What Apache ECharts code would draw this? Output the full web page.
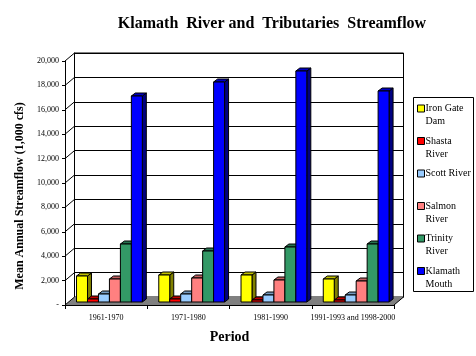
<!DOCTYPE html>
<html><head><meta charset="utf-8">
<style>html,body{margin:0;padding:0;background:#fff}#c{width:476px;height:356px}</style>
<script src="https://cdn.jsdelivr.net/npm/echarts@6/dist/echarts.min.js"></script>
</head><body><div id="c"></div>
<script>
const periods = ['1961-1970', '1971-1980', '1981-1990', '1991-1993 and 1998-2000'];
const ironGate = [2150, 2200, 2200, 1900];
const shasta = [250, 250, 200, 200];
const scott = [650, 650, 550, 550];
const salmon = [1900, 1950, 1800, 1700];
const trinity = [4750, 4150, 4500, 4750];
const klamath = [16900, 18000, 18900, 17300];
const yTicks = [0, 2000, 4000, 6000, 8000, 10000, 12000, 14000, 16000, 18000, 20000];

const rivers = [
  {name: 'Iron Gate\nDam', values: ironGate, face: '#ffff00', side: '#808000', top: '#bfbf00'},
  {name: 'Shasta\nRiver', values: shasta, face: '#ff0000', side: '#800000', top: '#bf0000'},
  {name: 'Scott River\n ', values: scott, face: '#99ccff', side: '#4d6680', top: '#7399bf'},
  {name: 'Salmon\nRiver', values: salmon, face: '#ff8080', side: '#804040', top: '#bf6060'},
  {name: 'Trinity\nRiver', values: trinity, face: '#339966', side: '#1a4d33', top: '#267350'},
  {name: 'Klamath\nMouth', values: klamath, face: '#0000ff', side: '#000080', top: '#0000bf'}
];
const WALL_DX = 9.5, WALL_DY = -8, BAR_DX = 3.3, BAR_DY = -3, BAR_DEPTH_X = 4, BAR_DEPTH_Y = -3;
const edge = {stroke: '#000', lineWidth: 1};

function poly(points, fill) {
  return {type: 'polygon', shape: {points}, style: Object.assign({fill}, edge)};
}
function barItem(river, idx) {
  return function (params, api) {
    const cat = api.value(0);
    const top = api.coord([cat, api.value(1)]);
    const base = api.coord([cat, 0]);
    const w = api.size([1, 0])[0] / 7.5;
    const x0 = top[0] + (idx - 3) * w + BAR_DX;
    const x1 = x0 + w;
    const y0 = Math.round(top[1] + BAR_DY);
    const y1 = base[1] + BAR_DY;
    const dx = BAR_DEPTH_X, dy = BAR_DEPTH_Y;
    return {type: 'group', children: [
      poly([[x1, y0], [x1 + dx, y0 + dy], [x1 + dx, y1 + dy], [x1, y1]], river.side),
      poly([[x0, y0], [x0 + dx, y0 + dy], [x1 + dx, y0 + dy], [x1, y0]], river.top),
      poly([[x0, y0], [x1, y0], [x1, y1], [x0, y1]], river.face)
    ]};
  };
}
function frameItem(params, api) {
  const v = api.value(0);
  const p = api.coord([0, v]);
  const left = api.coord([0, 0])[0] - api.size([1, 0])[0] / 2;
  const right = left + api.size([1, 0])[0] * periods.length;
  const children = [{type: 'line', shape: {x1: left, y1: p[1], x2: left + WALL_DX, y2: p[1] + WALL_DY}, style: edge}];
  if (v === 0) {
    children.unshift({type: 'polygon', shape: {points: [[left, p[1]], [right, p[1]], [right + WALL_DX, p[1] + WALL_DY], [left + WALL_DX, p[1] + WALL_DY]]}, style: {fill: '#808080'}});
    children.push({type: 'line', shape: {x1: right, y1: p[1], x2: right + WALL_DX, y2: p[1] + WALL_DY}, style: edge});
  }
  return {type: 'group', children};
}

const series = [{
  type: 'custom', name: 'frame', xAxisIndex: 0, yAxisIndex: 0, z: 1, silent: true,
  data: yTicks.map(v => [v]), encode: {y: 0}, renderItem: frameItem
}].concat(rivers.map((r, i) => ({
  type: 'custom', name: r.name, xAxisIndex: 0, yAxisIndex: 0, z: 2,
  itemStyle: {color: r.face},
  data: r.values.map((v, c) => [c, v]),
  encode: {x: 0, y: 1},
  renderItem: barItem(r, i)
})));

const chart = echarts.init(document.getElementById('c'), null, {renderer: 'canvas'});
const serif = '"Liberation Serif","Times New Roman",serif';
chart.setOption({
  animation: false,
  backgroundColor: '#fff',
  title: {
    text: 'Klamath  River and  Tributaries  Streamflow',
    left: 267, top: 11, textAlign: 'center',
    textStyle: {fontFamily: serif, fontWeight: 'bold', fontSize: 16, color: '#000'}
  },
  graphic: [{
    type: 'rect', z: 0, shape: {x: 413.5, y: 97.5, width: 60, height: 194},
    style: {fill: '#fff', stroke: '#000', lineWidth: 1}
  }],
  legend: {
    data: rivers.map(r => r.name),
    formatter: name => ' \n' + name,
    orient: 'vertical', left: 413, top: 86, z: 5,
    padding: [3, 0, 0, 4], itemGap: -6.5, itemWidth: 7, itemHeight: 7, icon: 'rect',
    itemStyle: {borderColor: '#000', borderWidth: 1},
    selectedMode: false,
    textStyle: {fontFamily: serif, fontSize: 10, color: '#000', lineHeight: 13, padding: [0, 0, 0, -4]}
  },
  grid: [
    {left: 65, top: 61, width: 329, height: 244},
    {left: 74.5, top: 53, width: 329, height: 244, show: true, borderColor: '#000', borderWidth: 1, backgroundColor: 'transparent'}
  ],
  xAxis: [
    {type: 'category', gridIndex: 0, data: periods, z: 3,
     name: 'Period', nameLocation: 'middle', nameGap: 25,
     nameTextStyle: {fontFamily: serif, fontWeight: 'bold', fontSize: 14, color: '#000'},
     axisLine: {lineStyle: {color: '#000', width: 1}},
     axisTick: {show: true, length: 4, lineStyle: {color: '#000'}},
     axisLabel: {fontFamily: serif, fontSize: 8, color: '#000', margin: 9, interval: 0, hideOverlap: false},
     splitLine: {show: false}},
    {type: 'category', gridIndex: 1, data: periods, show: false}
  ],
  yAxis: [
    {type: 'value', gridIndex: 0, min: 0, max: 20000, interval: 2000, z: 3,
     name: 'Mean Annual Streamflow (1,000 cfs)', nameLocation: 'middle', nameGap: 34,
     nameTextStyle: {fontFamily: serif, fontWeight: 'bold', fontSize: 12, color: '#000', padding: [0, 26, 0, 0]},
     axisLine: {show: true, lineStyle: {color: '#000', width: 1}},
     axisTick: {show: true, length: 3, lineStyle: {color: '#000'}},
     axisLabel: {fontFamily: serif, fontSize: 8, color: '#000', margin: 6,
       formatter: v => v === 0 ? '-' : v.toLocaleString('en-US')},
     splitLine: {show: false}},
    {type: 'value', gridIndex: 1, min: 0, max: 20000, interval: 2000,
     axisLine: {show: true, lineStyle: {color: '#000', width: 1}},
     axisTick: {show: false}, axisLabel: {show: false},
     splitLine: {show: true, lineStyle: {color: '#000', width: 1}}}
  ],
  series
});
</script></body></html>
